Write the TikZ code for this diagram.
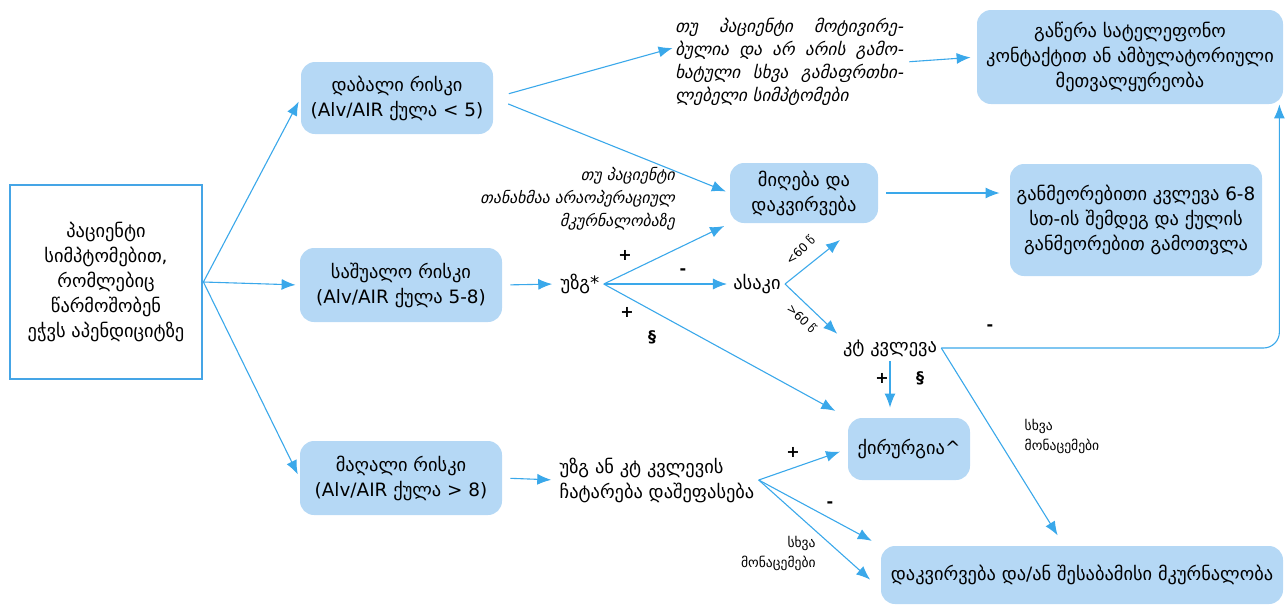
\documentclass[tikz,border=0pt]{standalone}
\usepackage{fontspec}
\setmainfont{DejaVu Sans}
\newfontfamily\slantfont[FakeSlant=0.22]{DejaVu Sans}
\definecolor{arrowblue}{HTML}{3AA8EA}
\definecolor{boxfill}{HTML}{B5D8F5}
\definecolor{frameblue}{HTML}{45A5E6}
\tikzset{
  box/.style={fill=boxfill,rounded corners=7pt,align=center,inner sep=2pt,font=\fontsize{9.2}{12.5}\selectfont},
  tbox/.style={align=center,inner sep=2pt,font=\fontsize{9.2}{12.5}\selectfont},
  arr/.style={draw=arrowblue,line width=0.55pt,-{Latex[length=7pt,width=5.5pt]}},
  note/.style={inner sep=1pt,font=\fontsize{8.6}{11.5}\slantfont},
  small/.style={inner sep=1pt,align=left,font=\fontsize{6.8}{10}\selectfont},
  sign/.style={inner sep=1pt,font=\fontsize{8}{9}\selectfont\bfseries}
}
\usetikzlibrary{arrows.meta}
\begin{document}
\begin{tikzpicture}[x=0.5pt,y=-0.5pt]
  \useasboundingbox (0,0) rectangle (1287,607);
  % boxes
  \node[tbox,draw=frameblue,line width=1.4pt,minimum width=96pt,minimum height=97pt] (pat) at (106,282)
    {პაციენტი\\სიმპტომებით,\\რომლებიც\\წარმოშობენ\\ეჭვს აპენდიციტზე};
  \node[box,minimum width=96pt,minimum height=36pt] (low) at (397,98) {დაბალი რისკი\\(Alv/AIR ქულა < 5)};
  \node[box,minimum width=101pt,minimum height=37pt] (mid) at (401,285) {საშუალო რისკი\\(Alv/AIR ქულა 5-8)};
  \node[box,minimum width=101pt,minimum height=37pt] (high) at (401,478) {მაღალი რისკი\\(Alv/AIR ქულა > 8)};
  \node[box,minimum width=153pt,minimum height=47pt] (discharge) at (1130,57)
    {გაწერა სატელეფონო\\კონტაქტით ან ამბულატორიული\\მეთვალყურეობა};
  \node[box,minimum width=74pt,minimum height=30pt] (admit) at (804,193) {მიღება და\\დაკვირვება};
  \node[box,minimum width=126pt,minimum height=56pt] (repeat) at (1136,220)
    {განმეორებითი კვლევა 6-8\\სთ-ის შემდეგ და ქულის\\განმეორებით გამოთვლა};
  \node[box,minimum width=61pt,minimum height=31pt] (surgery) at (909,449) {ქირურგია\^{}};
  \node[box,minimum width=201pt,minimum height=29pt] (treat) at (1082,575) {დაკვირვება და/ან შესაბამისი მკურნალობა};
  % plain texts
  \node[tbox] (us) at (580,284) {უზგ*};
  \node[tbox] (age) at (757,284) {ასაკი};
  \node[tbox] (ct) at (890,348) {კტ კვლევა};
  \node[tbox,align=left] (usct) at (657,480) {უზგ ან კტ კვლევის\\ჩატარება დაშეფასება};
  \node[note,text width=114pt,align=justify] (topnote) at (789,62)
    {თუ პაციენტი მოტივირე-\linebreak ბულია და არ არის გამო-\linebreak ხატული სხვა გამაფრთხი-\linebreak ლებელი სიმპტომები};
  \node[note,align=right,anchor=east,font=\fontsize{7.9}{11.5}\slantfont] (consent) at (677,199)
    {თუ პაციენტი\\თანახმაა არაოპერაციულ\\მკურნალობაზე};
  \node[small] (other1) at (1062,436) {სხვა\\მონაცემები};
  \node[small,align=right,anchor=east] (other2) at (818,553) {სხვა\\მონაცემები};
  \coordinate (young) at (840,240);
  % connectors
  \foreach \t in {low,mid,high}
    \draw[arr,shorten >=2pt] (pat.east) -- (\t.west);
  \draw[arr,shorten <=8pt] (low.east) -- ([yshift=7pt]topnote.west);
  \draw[arr,shorten <=8pt,shorten >=2pt] (low.east) -- (admit.west);
  \draw[arr,shorten <=2pt,shorten >=3pt] (topnote.east) -- (discharge.west);
  \draw[arr,shorten <=4pt,shorten >=5pt] (admit.east) -- (admit.east -| repeat.west);
  \draw[arr,shorten <=4pt,shorten >=2pt] (mid.east) -- (us.west);
  \draw[arr,shorten >=3pt] (us.east) -- (admit.south west);
  \draw[arr,shorten >=1pt] (us.east) -- (age.west);
  \draw[arr,shorten >=7pt] (us.east) -- (surgery.north west);
  \draw[arr] (age.east) -- (young);
  \draw[arr,shorten >=1pt] (age.east) -- (ct.north west);
  \draw[arr,shorten >=5pt] (ct.south) -- (ct.south |- surgery.north);
  \draw[arr,rounded corners=8pt] (ct.east) -| ([xshift=-2pt]discharge.south east);
  \draw[arr,shorten >=6pt] (ct.east) -- ([xshift=-9pt]treat.north);
  \draw[arr,shorten <=4pt,shorten >=2pt] (high.east) -- (usct.west);
  \draw[arr,shorten >=4pt] (usct.east) -- (surgery.west);
  \draw[arr,shorten >=5pt] (usct.east) -- (treat.north west);
  \draw[arr,shorten >=7pt] (usct.east) -- ([yshift=-7pt]treat.west);
  % branch labels
  \node[small,rotate=45,font=\fontsize{6}{8}\selectfont] at (800,250) {<60 წ};
  \node[small,rotate=-45,font=\fontsize{6}{8}\selectfont] at (802,318) {>60 წ};
  \node[sign] at (625,255) {+};
  \node[sign] at (683,272) {-};
  \node[sign] at (627,312) {+};
  \node[sign] at (652,337) {§};
  \node[sign] at (882,378) {+};
  \node[sign] at (920,378) {§};
  \node[sign] at (990,328) {-};
  \node[sign] at (793,452) {+};
  \node[sign] at (830,505) {-};
\end{tikzpicture}
\end{document}
